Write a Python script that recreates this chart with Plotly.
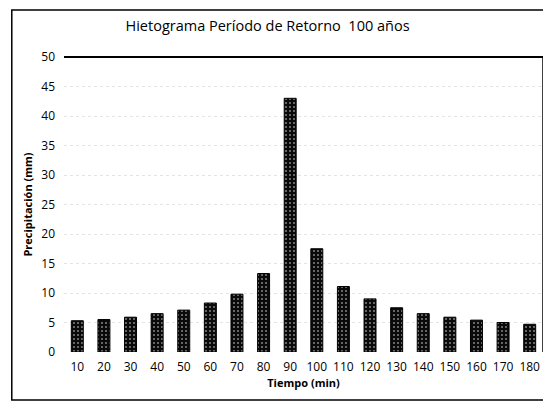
import plotly.graph_objects as go

tiempo = [10, 20, 30, 40, 50, 60, 70, 80, 90, 100, 110, 120, 130, 140, 150, 160, 170, 180]
precipitacion = [5.3, 5.5, 5.9, 6.5, 7.1, 8.3, 9.8, 13.3, 43.0, 17.5, 11.1, 9.0, 7.5, 6.5, 5.9, 5.4, 5.0, 4.7]
y_ticks = [0, 5, 10, 15, 20, 25, 30, 35, 40, 45, 50]

fig = go.Figure()
fig.add_trace(go.Bar(
    x=[str(t) for t in tiempo],
    y=precipitacion,
    width=0.45,
    marker=dict(
        color="#0a0a0a",
        line=dict(color="#000000", width=1),
        pattern=dict(shape=".", fgcolor="#ffffff", bgcolor="#0a0a0a", size=4, solidity=0.2),
    ),
))

# page body adds an 8px margin, so the figure is 8px smaller than the window
fig.update_layout(
    width=543, height=396,
    margin=dict(l=56, r=8, t=49, b=52),
    paper_bgcolor="white", plot_bgcolor="white",
    showlegend=False,
    font=dict(family="Open Sans, Liberation Sans, sans-serif", color="#000000", size=12),
    title=dict(text="Hietograma Período de Retorno  100 años", x=0.478, xanchor="center",
               y=0.955, yanchor="middle", font=dict(size=14.5, color="#000000")),
    xaxis=dict(title=dict(text="<b>Tiempo (min)</b>", font=dict(size=11), standoff=2),
               showgrid=False, showline=False, ticks="", tickfont=dict(size=12),
               ticklabelstandoff=6),
    yaxis=dict(title=dict(text="<b>Precipitación (mm)</b>", font=dict(size=11), standoff=6),
               range=[0, 50], tickvals=y_ticks, showgrid=True, gridcolor="#e4e4e4",
               griddash="dot", gridwidth=1, zeroline=False, showline=False,
               ticks="", tickfont=dict(size=12), ticklabelstandoff=8),
    bargap=0.55,
)

# top border of plot (50 line) and right border
fig.add_shape(type="line", xref="paper", yref="paper", x0=0, x1=1, y0=1, y1=1,
              line=dict(color="#000000", width=2))
fig.add_shape(type="line", xref="paper", yref="paper", x0=1, x1=1, y0=0, y1=1,
              line=dict(color="#000000", width=1.5))
# outer chart border
fig.add_shape(type="rect", xref="paper", yref="paper", x0=-0.109, x1=1.03, y0=-0.163, y1=1.159,
              line=dict(color="#000000", width=1.5), layer="below")

fig.write_html("out.html")
